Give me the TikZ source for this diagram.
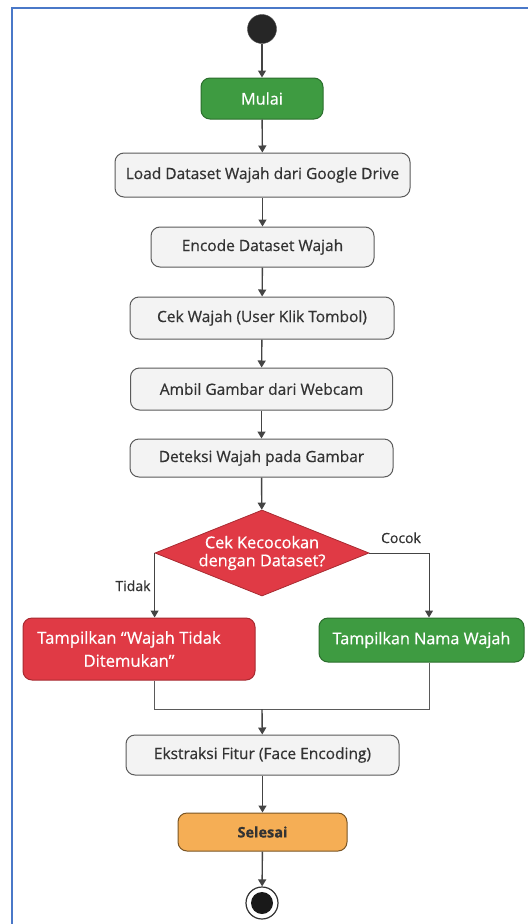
\documentclass[tikz,border=0pt]{standalone}
\usepackage{fontspec}
\setmainfont{Open Sans}[FakeBold=0.6]
\usetikzlibrary{shapes.geometric,arrows.meta,calc}
\definecolor{bordblue}{HTML}{4A78C8}
\definecolor{grfill}{HTML}{3E9B41}
\definecolor{grdraw}{HTML}{2B6E2D}
\definecolor{rdfill}{HTML}{E03A45}
\definecolor{rddraw}{HTML}{A82A31}
\definecolor{gyfill}{HTML}{F3F3F3}
\definecolor{gydraw}{HTML}{5A5A5A}
\definecolor{orfill}{HTML}{F5AE55}
\definecolor{ordraw}{HTML}{7A5524}
\definecolor{txt}{HTML}{333333}
\definecolor{conn}{HTML}{444444}
\tikzset{
  box/.style={rectangle, rounded corners=9pt, draw=gydraw, fill=gyfill, line width=1pt,
    text=txt, font=\fontsize{15.5}{17}\selectfont, inner sep=0pt, align=center},
  greenbox/.style={box, fill=grfill, draw=grdraw, text=white, font=\fontsize{16.2}{18}\selectfont},
  redbox/.style={box, fill=rdfill, draw=rddraw, text=white},
  orangebox/.style={box, fill=orfill, draw=ordraw, text=txt, font=\fontsize{14.5}{16}\selectfont\bfseries},
  arr/.style={draw=conn, line width=1.4pt, -{Triangle[length=7pt,width=8pt]}},
  thinline/.style={draw=gydraw, line width=1pt},
  lbl/.style={text=txt, font=\fontsize{14}{16}\selectfont, inner sep=0pt}
}
\begin{document}
\begin{tikzpicture}[x=1pt,y=-1pt]
\useasboundingbox (0,0) rectangle (528,924);
\fill[white] (0,0) rectangle (528,924);
\draw[bordblue, line width=2pt] (12,924) -- (12,8) -- (528,8);

\node[circle, fill=black!85, draw=black!70, minimum size=29pt, inner sep=0pt] (start) at (262,29) {};
\node[greenbox, minimum width=122pt, minimum height=41pt] (mulai) at (262,98.5) {Mulai};
\node[box, minimum width=295pt, minimum height=44pt] (load) at (262.5,175) {Load Dataset Wajah dari Google Drive};
\node[box, minimum width=223pt, minimum height=40pt] (encode) at (262.5,247) {Encode Dataset Wajah};
\node[box, minimum width=264pt, minimum height=42pt] (cek) at (262,318) {Cek Wajah (User Klik Tombol)};
\node[box, minimum width=262pt, minimum height=42pt] (ambil) at (261.5,389) {Ambil Gambar dari Webcam};
\node[box, minimum width=263pt, minimum height=38pt] (deteksi) at (261.5,458) {Deteksi Wajah pada Gambar};
\node[diamond, aspect=2.5, fill=rdfill, draw=rddraw, line width=0.8pt, minimum width=214pt, minimum height=86pt, inner sep=0pt,
  text=white, align=center, font=\fontsize{16.3}{18}\selectfont] (dia) at (262,553) {Cek Kecocokan\\dengan Dataset?};
\node[redbox, minimum width=232pt, minimum height=62pt, font=\fontsize{16.6}{23}\selectfont] (red) at (139,649) {\hspace*{-20pt}Tampilkan “Wajah Tidak\\\hspace*{-20pt}Ditemukan”};
\node[greenbox, minimum width=205pt, minimum height=44pt] (green) at (421.5,640) {Tampilkan Nama Wajah};
\node[box, minimum width=273pt, minimum height=40pt] (ekstr) at (262.5,755) {Ekstraksi Fitur (Face Encoding)};
\node[orangebox, minimum width=169pt, minimum height=38pt] (selesai) at (262.5,832) {Selesai};
\node[circle, draw=black!80, fill=white, line width=1.2pt, minimum size=32pt, inner sep=0pt] (end) at (262,903) {};
\node[circle, fill=black!90, minimum size=22pt, inner sep=0pt] at (end) {};

\coordinate (gr) at (429,0);
\coordinate (merge) at (262,709);

\draw[arr] (start) -- (mulai);
\draw[arr] (mulai) -- (load);
\draw[arr] (load) -- (encode);
\draw[arr] (encode) -- (cek);
\draw[arr] (cek) -- (ambil);
\draw[arr] (ambil) -- (deteksi);
\draw[arr] (deteksi) -- (dia);
\draw[arr, line width=1pt] (dia.west) -- (dia.west |- red.north);
\draw[arr, line width=1pt] (dia.east) -| (gr |- green.north);
\draw[thinline] (dia.west |- red.south) -- (dia.west |- merge) -- (gr |- merge) -- (gr |- green.south);
\draw[arr] (merge) -- (ekstr);
\draw[arr] (ekstr) -- (selesai);
\draw[arr] (selesai) -- (end);

\node[lbl, anchor=base] (cocok) at (401,543) {Cocok};
\node[lbl, anchor=base] (tidak) at (133,591) {Tidak};
\end{tikzpicture}
\end{document}
